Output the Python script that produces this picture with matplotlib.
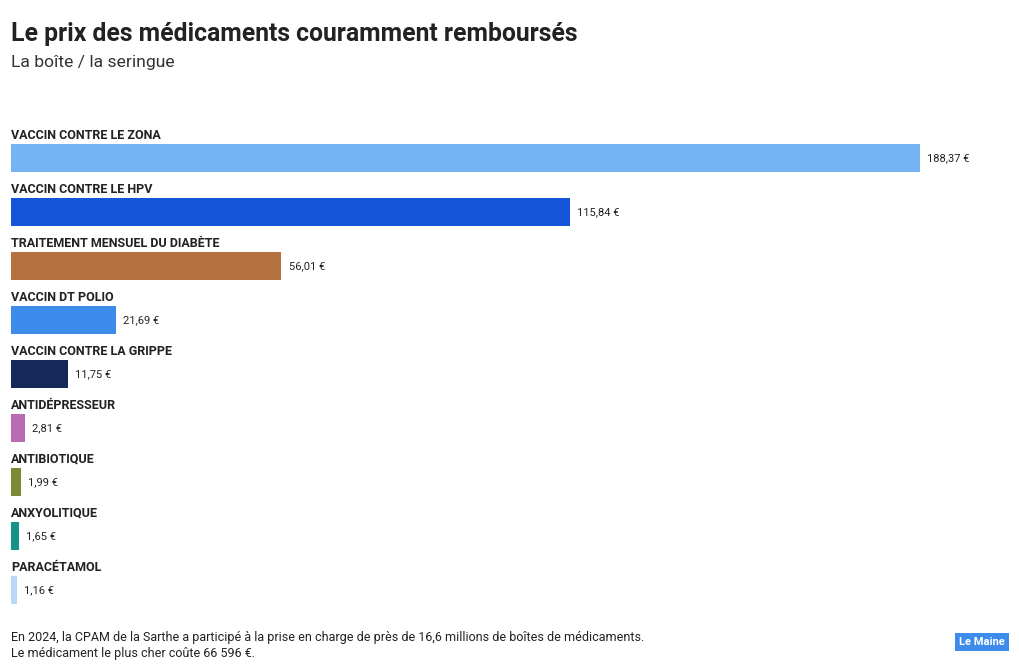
import matplotlib
matplotlib.use('Agg')
import matplotlib.pyplot as plt
from matplotlib import font_manager

names = [f.name for f in font_manager.fontManager.ttflist]
fam = 'Liberation Sans Narrow' if 'Liberation Sans Narrow' in names else 'Roboto'
plt.rcParams['font.family'] = [fam, 'DejaVu Sans']

categories = ['VACCIN CONTRE LE ZONA', 'VACCIN CONTRE LE HPV', 'TRAITEMENT MENSUEL DU DIABÈTE',
              'VACCIN DT POLIO', 'VACCIN CONTRE LA GRIPPE', 'ANTIDÉPRESSEUR', 'ANTIBIOTIQUE',
              'ANXYOLITIQUE', 'PARACÉTAMOL']
values = [188.37, 115.84, 56.01, 21.69, 11.75, 2.81, 1.99, 1.65, 1.16]
colors = ['#74b4f4', '#1454d9', '#b57140', '#3d8ceb', '#14285a', '#b86bb0', '#7a8a35', '#13918a', '#b8d8f5']

W, H = 1020, 671
fig = plt.figure(figsize=(W / 100, H / 100), dpi=100)
ax = fig.add_axes([11 / W, 1 - 617 / H, (920 - 11) / W, (617 - 131) / H])
ys = range(len(values))
ax.barh(ys, values, height=0.52, color=colors)
ax.set_xlim(0, values[0])
ax.set_ylim(len(values) - 0.5, -0.5)
ax.axis('off')
for y, v, c in zip(ys, values, categories):
    ax.text(0, y - 0.3, c, fontsize=9, fontweight='bold', color='#222222', va='bottom', ha='left')
    ax.text(v + 1.5, y, ('%.2f €' % v).replace('.', ','), fontsize=8, color='#222222', va='center')

fig.text(11 / W, 1 - 34 / H, 'Le prix des médicaments couramment remboursés', fontsize=17.8,
         fontweight='bold', color='#222222', va='center')
fig.text(11 / W, 1 - 62 / H, 'La boîte / la seringue', fontsize=12.6, color='#333333', va='center')
fig.text(11 / W, 1 - 637 / H, 'En 2024, la CPAM de la Sarthe a participé à la prise en charge de près de 16,6 millions de boîtes de médicaments.',
         fontsize=9, color='#222222', va='center')
fig.text(11 / W, 1 - 653 / H, 'Le médicament le plus cher coûte 66 596 €.', fontsize=9, color='#222222', va='center')
fig.text(982 / W, 1 - 642 / H, 'Le Maine', fontsize=8, fontweight='bold', color='white', ha='center', va='center',
         bbox=dict(boxstyle='square,pad=0.4', fc='#3d8ceb', ec='none'))
fig.savefig('out.png', dpi=100)
